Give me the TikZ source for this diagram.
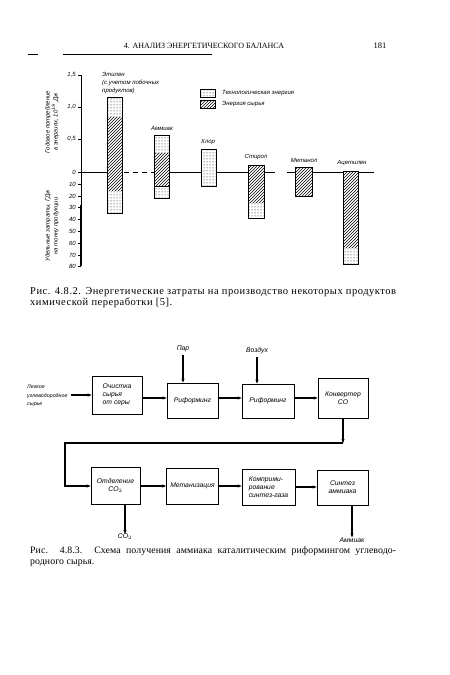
\documentclass[tikz,border=0pt]{standalone}
\usepackage{fontspec}
\setmainfont{Liberation Serif}
\newfontfamily\labfont{Liberation Sans}
\newfontfamily\capfont[LetterSpace=5]{Liberation Serif}
\newfontfamily\capfontb[LetterSpace=1]{Liberation Serif}
\usetikzlibrary{patterns,arrows.meta}
\begin{document}
\begin{tikzpicture}[x=1pt,y=-1pt,
  lab/.style={font=\labfont\itshape\fontsize{6}{7}\selectfont, inner sep=0pt},
  blab/.style={font=\labfont\itshape\fontsize{6.8}{8}\selectfont, inner sep=0pt, align=left},
  blk/.style={draw, line width=0.8pt, align=left, inner sep=2pt,
    font=\labfont\itshape\fontsize{6.8}{8}\selectfont},
  conn/.style={line width=1.1pt, -{Stealth[length=4pt,width=3.2pt]}},
  barline/.style={line width=0.8pt},
  zline/.style={line width=0.9pt},
  captxt/.style={anchor=north west, inner sep=0pt, text width=366pt, align=justify,
    font=\capfont\fontsize{10.5}{11}\selectfont}]
\useasboundingbox (0,0) rectangle (450,675);

% ---------- header ----------
\node[inner sep=0pt, font=\fontsize{8}{9}\selectfont] (hdr) at (204,46) {4. АНАЛИЗ ЭНЕРГЕТИЧЕСКОГО БАЛАНСА};
\node[inner sep=0pt, font=\fontsize{8.5}{9}\selectfont] (pg) at (380,46) {181};
\draw[line width=0.6pt] (63,54) -- (212,54);
\draw[line width=0.6pt] (28,54) -- (38,54);

% ---------- chart: axis ----------
\draw[line width=0.9pt] (81,75) -- (81,266);
\draw[line width=1.4pt] (81,205) -- (81,266);
\foreach \yy/\tx in {75/{1,5},107/{1,0},139/{0,5},172/0,184/10,196/20,207/30,219/40,231/50,243/60,255/70,266/80}{
  \draw[line width=0.6pt] (78,\yy) -- (81,\yy);
  \node[lab, anchor=east] at (76,\yy) {\tx};
}
\node[lab, rotate=90, align=center, font=\labfont\itshape\fontsize{6}{8}\selectfont] (ylabA) at (52,122) {Годовое потребление\\в энергиях, 10$^{18}$ Дж};
\node[lab, rotate=90, align=center, font=\labfont\itshape\fontsize{6}{8}\selectfont] (ylabB) at (52,226) {Удельные затраты, ГДж\\на тонну продукции};

% zero line
\draw[zline] (81,172) -- (107,172);
\draw[zline, dash pattern=on 5pt off 4pt] (124,172) -- (154,172);
\draw[zline] (169,172) -- (275,172);
\draw[zline] (287,172) -- (374,172);

% bars: x1/x2/top/h1/h2/bottom
\foreach \xa/\xb/\ta/\ha/\hb/\ba in {107/122/97/117/190/213, 154/169/135/153/186/198,
   201/216/149/149/149/186, 248/264/165/165/202/218, 295/312/167/167/196/196,
   343/358/171/171/247/264}{
  \fill[white] (\xa,\ta) rectangle (\xb,\ba);
  \fill[pattern=dots] (\xa,\ta) rectangle (\xb,\ha);
  \fill[pattern=north east lines] (\xa,\ha) rectangle (\xb,\hb);
  \fill[pattern=dots] (\xa,\hb) rectangle (\xb,\ba);
  \draw[barline] (\xa,\ta) rectangle (\xb,\ba);
}
\draw[line width=0.6pt] (154,186) -- (169,186);

% bar labels
\node[lab, anchor=west, align=left, font=\labfont\itshape\fontsize{6}{8}\selectfont] (lEt) at (102,83) {Этилен\\(с учетом побочных\\продуктов)};
\node[lab] (lAm) at (162,128) {Аммиак};
\node[lab] (lCl) at (208,142) {Хлор};
\node[lab] (lSt) at (256,157) {Стирол};
\node[lab] (lMe) at (304,160) {Метанол};
\node[lab] (lAc) at (352,163) {Ацетилен};

% legend
\fill[pattern=dots] (200,89) rectangle (215,97);
\draw[line width=0.7pt] (200,89) rectangle (215,97);
\fill[pattern=north east lines] (200,100) rectangle (215,108);
\draw[line width=0.7pt] (200,100) rectangle (215,108);
\node[lab, anchor=west] (lg1) at (222,93) {Технологическая энергия};
\node[lab, anchor=west] (lg2) at (222,104) {Энергия сырья};

% caption 1
\node[captxt] (cap1) at (30,287) {Рис. 4.8.2. Энергетические затраты на производство некоторых продуктов\linebreak химической переработки [5].};

% ---------- flow diagram ----------
\node[blk, minimum width=50pt, minimum height=38pt] (b1) at (117,395) {Очистка\\сырья\\от серы};
\node[blk, minimum width=51pt, minimum height=35pt] (b2) at (192.5,400.5) {Риформинг};
\node[blk, minimum width=52pt, minimum height=34pt] (b3) at (268,401) {Риформинг};
\node[blk, minimum width=50pt, minimum height=40pt, align=center] (b4) at (343,398) {Конвертер\\CO};
\node[blk, minimum width=49pt, minimum height=37pt, align=center] (b5) at (115.5,486) {Отделение\\CO$_2$};
\node[blk, minimum width=52pt, minimum height=36pt] (b6) at (192.5,486) {Метанизация};
\node[blk, minimum width=53pt, minimum height=36pt] (b7) at (268.5,487) {Комприми-\\рование\\синтез-газа};
\node[blk, minimum width=51pt, minimum height=35pt, align=center] (b8) at (342.5,487.5) {Синтез\\аммиака};

\node[lab, align=left, anchor=west, font=\labfont\itshape\fontsize{5.3}{8.5}\selectfont] (inp) at (27,396) {Легкое\\углеводородное\\сырье};
\node[blab] (par) at (183,349) {Пар};
\node[blab] (air) at (257,351) {Воздух};
\node[blab] (co2) at (125,537) {CO$_2$};
\node[blab] (amm) at (352,540) {Аммиак};

\coordinate (rA) at (0,398);
\coordinate (rB) at (0,486);
\coordinate (c1) at (343,443);
\coordinate (c2) at (65,443);

\draw[conn] (b1.west -| inp.east) ++(3,0) -- (b1.west);
\draw[conn] (b1.east |- rA) -- (b2.west |- rA);
\draw[conn] (b2.east |- rA) -- (b3.west |- rA);
\draw[conn] (b3.east |- rA) -- (b4.west |- rA);
\draw[conn] (par.south) ++(0,3) -- (par.south |- b2.north);
\draw[conn] (air.south) ++(0,3) -- (air.south |- b3.north);
\draw[conn] (b4.south) -- (c1);
\draw[conn] (c1) -- (c2) |- (b5.west);
\draw[conn] (b5.east) -- (b6.west);
\draw[conn] (b6.east) -- (b7.west |- b6.east);
\draw[conn] (b7.east) -- (b8.west |- b7.east);
\draw[conn] (co2 |- b5.south) -- (co2.north);
\draw[conn] (amm |- b8.south) -- (amm.north);

% caption 2
\node[captxt, font=\capfontb\fontsize{9.8}{11}\selectfont] (cap2) at (30,546) {Рис. 4.8.3. Схема получения аммиака каталитическим риформингом углеводо-\linebreak родного сырья.};
\end{tikzpicture}
\end{document}
